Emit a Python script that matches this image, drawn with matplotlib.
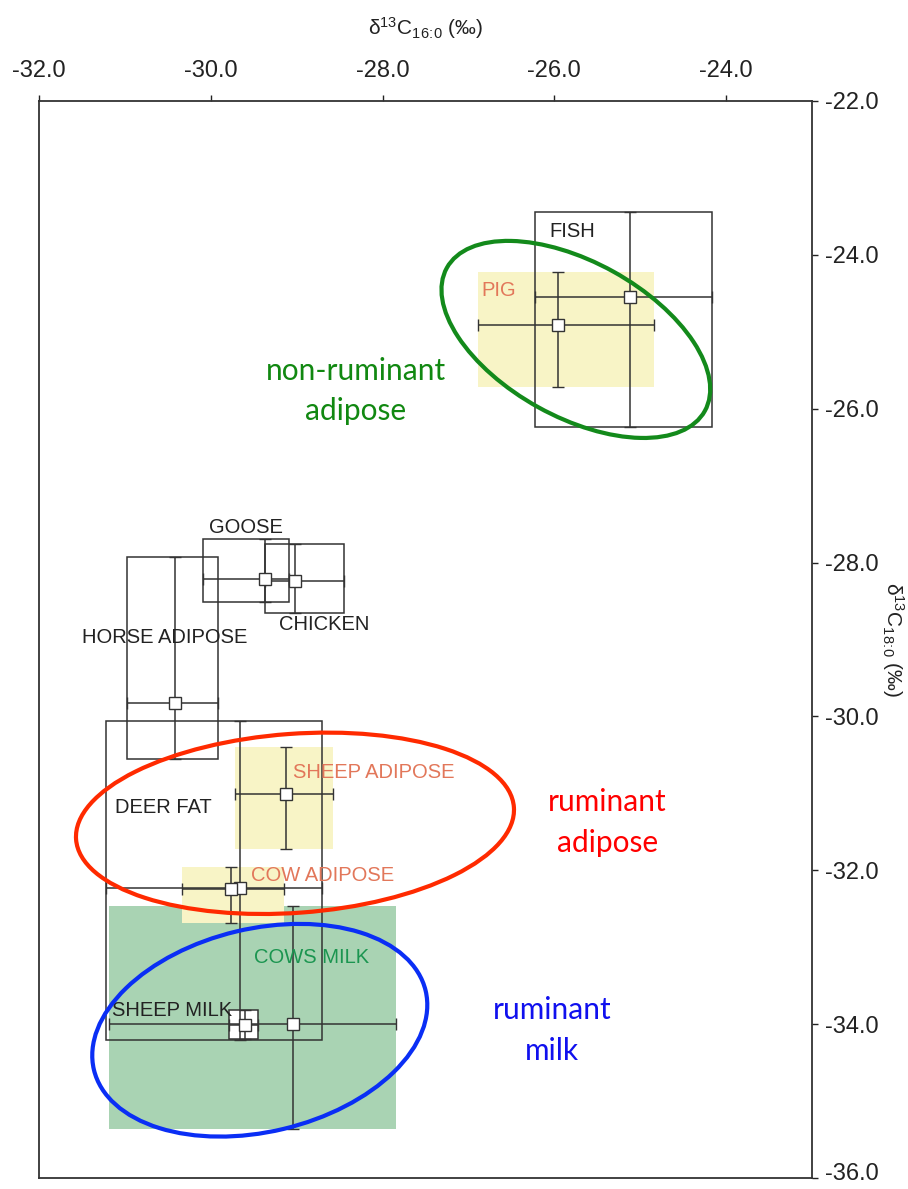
import matplotlib.pyplot as plt
from matplotlib.patches import Rectangle, Ellipse
from matplotlib.transforms import ScaledTranslation

plt.rcParams['font.family'] = ['Liberation Sans', 'DejaVu Sans']
plt.rcParams['mathtext.fontset'] = 'custom'
plt.rcParams['mathtext.rm'] = 'Liberation Sans'
plt.rcParams['mathtext.it'] = 'Liberation Sans:italic'
plt.rcParams['axes.unicode_minus'] = False

# valores (media y rango)
samples = ['FISH', 'PIG', 'GOOSE', 'CHICKEN', 'HORSE ADIPOSE', 'DEER FAT',
           'SHEEP ADIPOSE', 'COW ADIPOSE', 'COWS MILK', 'SHEEP MILK']
x_mean = [-25.12, -25.96, -29.37, -29.02, -30.42, -29.66, -29.13, -29.76, -29.04, -29.60]
x_min = [-26.22, -26.89, -30.09, -29.37, -30.98, -31.22, -29.72, -30.33, -31.18, -29.79]
x_max = [-24.16, -24.84, -29.09, -28.45, -29.92, -28.71, -28.58, -29.15, -27.84, -29.45]
y_mean = [-24.55, -24.91, -28.22, -28.24, -29.82, -32.23, -31.01, -32.25, -34.00, -34.01]
y_min = [-26.24, -25.72, -28.51, -28.65, -30.56, -34.21, -31.72, -32.69, -35.36, -34.19]
y_max = [-23.45, -24.23, -27.70, -27.76, -27.93, -30.06, -30.40, -31.96, -32.47, -33.82]

x_ticks = [-32.0, -30.0, -28.0, -26.0, -24.0]
y_ticks = [-22.0, -24.0, -26.0, -28.0, -30.0, -32.0, -34.0, -36.0]

groups = ['non-ruminant\nadipose', 'ruminant\nadipose', 'ruminant\nmilk']

# estilos
yellow_fill = ['PIG', 'SHEEP ADIPOSE', 'COW ADIPOSE']
green_fill = ['COWS MILK']
white_fill = ['SHEEP MILK']
label_color = {'PIG': '#E2775A', 'SHEEP ADIPOSE': '#E2775A', 'COW ADIPOSE': '#E2775A',
               'COWS MILK': '#1B9550'}
label_pos = {'FISH': (-26.06, -23.70), 'PIG': (-26.85, -24.46), 'GOOSE': (-30.02, -27.54),
             'CHICKEN': (-29.21, -28.81), 'HORSE ADIPOSE': (-31.50, -28.97),
             'DEER FAT': (-31.11, -31.18), 'SHEEP ADIPOSE': (-29.04, -30.73),
             'COW ADIPOSE': (-29.53, -32.075), 'COWS MILK': (-29.50, -33.14),
             'SHEEP MILK': (-31.15, -33.82)}

line_c = '#333333'

fig = plt.figure(figsize=(9.08, 11.89), dpi=100)
ax = fig.add_axes([0.043, 0.0093, 0.8513, 0.9058])
ax.set_xlim(-32, -23)
ax.set_ylim(-36, -22)

for i, name in enumerate(samples):
    x0, x1, y0, y1 = x_min[i], x_max[i], y_min[i], y_max[i]
    if name in yellow_fill:
        ax.add_patch(Rectangle((x0, y0), x1 - x0, y1 - y0, fc='#F8F4C6', ec='none', zorder=1))
    elif name in green_fill:
        ax.add_patch(Rectangle((x0, y0), x1 - x0, y1 - y0, fc='#A9D3B3', ec='none', zorder=0.9))
    else:
        fc = 'white' if name in white_fill else 'none'
        ax.add_patch(Rectangle((x0, y0), x1 - x0, y1 - y0, fc=fc, ec=line_c, lw=1.1, zorder=2))
    ax.errorbar(x_mean[i], y_mean[i],
                xerr=[[x_mean[i] - x0], [x1 - x_mean[i]]],
                yerr=[[y_mean[i] - y0], [y1 - y_mean[i]]],
                fmt='s', ms=8.5, mfc='white', mec=line_c, mew=1.0,
                ecolor=line_c, elinewidth=1.1, capsize=4, capthick=1.1, zorder=3)
    lx, ly = label_pos[name]
    ax.text(lx, ly, name, fontsize=14.5, color=label_color.get(name, '#222222'),
            ha='left', va='center', zorder=5)

# elipses de grupo (tamano en pulgadas, centro en datos)
ell_center = [(-25.75, -25.10), (-29.02, -31.39), (-29.43, -34.08)]
ell_size = [(2.95, 1.55, -29), (4.39, 1.79, 4.2), (3.41, 2.03, 13.4)]
ell_color = ['#138A1B', '#FF2A00', '#0A2EF5']
for (cx, cy), (w, h, ang), c in zip(ell_center, ell_size, ell_color):
    tr = fig.dpi_scale_trans + ScaledTranslation(cx, cy, ax.transData)
    ax.add_patch(Ellipse((0, 0), w, h, angle=ang, fill=False, ec=c, lw=3.0,
                         transform=tr, zorder=6, clip_on=False))

group_pos = [(-28.31, -25.77), (-25.38, -31.38), (-26.03, -34.08)]
group_color = ['#118811', '#FF0000', '#1010EE']
for g, (gx, gy), c in zip(groups, group_pos, group_color):
    ax.text(gx, gy, g, fontsize=21.5, color=c, ha='center', va='center',
            family=['Lato', 'DejaVu Sans'], linespacing=1.55, zorder=7)

# ejes
ax.xaxis.tick_top()
ax.yaxis.tick_right()
ax.set_xticks(x_ticks)
ax.set_xticklabels([f'{t:.1f}' for t in x_ticks])
ax.set_yticks(y_ticks)
ax.set_yticklabels([f'{t:.1f}' for t in y_ticks])
ax.tick_params(axis='x', direction='out', length=4, width=1.0, pad=10,
               labelsize=17, colors='#222222')
ax.tick_params(axis='y', direction='out', length=4, width=1.0, pad=5,
               labelsize=17, colors='#222222')
# subir un poco la ultima etiqueta para que no se corte
last = ax.get_yticklabels()[-1]
last.set_transform(last.get_transform() + ScaledTranslation(0, 0.06, fig.dpi_scale_trans))
for sp in ax.spines.values():
    sp.set_color('#333333')
    sp.set_linewidth(1.3)

ax.xaxis.set_label_position('top')
ax.set_xlabel('δ$^{13}$C$_{16\\!:\\!0}$ (‰)', fontsize=15, labelpad=18, color='#222222')
ax.yaxis.set_label_position('right')
ax.set_ylabel('δ$^{13}$C$_{18\\!:\\!0}$ (‰)', fontsize=15, rotation=270, labelpad=20,
              color='#222222')

fig.savefig('out.png', dpi=100)
